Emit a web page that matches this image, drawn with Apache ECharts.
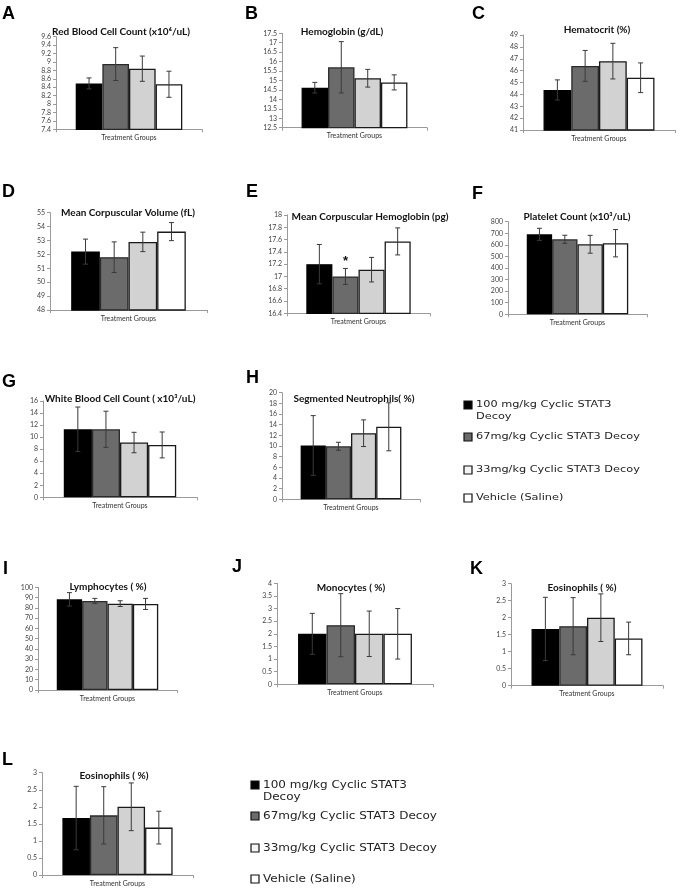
<!DOCTYPE html>
<html><head><meta charset="utf-8">
<script src="https://cdn.jsdelivr.net/npm/echarts@6/dist/echarts.min.js"></script>
<style>html,body{margin:0;padding:0;background:#fff}#c{width:685px;height:894px}</style>
</head><body><div id="c"></div>
<script>
// ---------- DATA ----------
const groups = ['100 mg/kg Cyclic STAT3 Decoy', '67mg/kg Cyclic STAT3 Decoy', '33mg/kg Cyclic STAT3 Decoy', 'Vehicle (Saline)'];
const xCategory = ['Treatment Groups'];
const panelLetters = ['A','B','C','D','E','F','G','H','I','J','K','L'];
const panelTitles = ['Red Blood Cell Count (x10\u2076/uL)', 'Hemoglobin (g/dL)', 'Hematocrit (%)',
  'Mean Corpuscular Volume (fL)', 'Mean Corpuscular Hemoglobin (pg)', 'Platelet Count (x10\u00b3/uL)',
  'White Blood Cell Count ( x10\u00b3/uL)', 'Segmented Neutrophils( %)', 'Lymphocytes ( %)',
  'Monocytes ( %)', 'Eosinophils ( %)', 'Eosinophils ( %)'];
const rbc = [8.49, 8.95, 8.84, 8.47],   rbcSD = [0.13, 0.39, 0.30, 0.31];
const hgb = [14.62, 15.70, 15.12, 14.90], hgbSD = [0.28, 1.36, 0.47, 0.40];
const hct = [44.37, 46.40, 46.80, 45.40], hctSD = [0.85, 1.30, 1.50, 1.25];
const mcv = [52.2, 51.8, 52.9, 53.64],  mcvSD = [0.9, 1.1, 0.7, 0.65];
const mch = [17.2, 17.0, 17.11, 17.57], mchSD = [0.32, 0.13, 0.2, 0.22];
const mchSig = [0, 1, 0, 0];
const plt = [691, 648, 605, 614],       pltSD = [52, 35, 77, 118];
const wbc = [11.3, 11.3, 9.1, 8.7],     wbcSD = [3.7, 3.0, 1.7, 2.15];
const neut = [10.1, 9.95, 12.4, 13.6],  neutSD = [5.6, 0.75, 2.5, 4.5];
const lymph = [88.3, 86.7, 84.1, 83.8], lymphSD = [6.5, 2.5, 2.8, 5.4];
const mono = [2.0, 2.34, 2.0, 2.0],     monoSD = [0.81, 1.25, 0.9, 1.0];
const eos = [1.67, 1.75, 2.0, 1.39],    eosSD = [0.93, 0.84, 0.7, 0.48];
// y-axis ticks: [min, max, interval]
const yTicksA = [7.4, 9.6, 0.2], yTicksB = [12.5, 17.5, 0.5], yTicksC = [41, 49, 1], yTicksD = [48, 55, 1];
const yTicksE = [16.4, 18, 0.2], yTicksF = [0, 800, 100], yTicksG = [0, 16, 2], yTicksH = [0, 20, 2];
const yTicksI = [0, 100, 10], yTicksJ = [0, 4, 0.5], yTicksK = [0, 3, 0.5], yTicksL = [0, 3, 0.5];

const panelMeans = [rbc, hgb, hct, mcv, mch, plt, wbc, neut, lymph, mono, eos, eos];
const panelSDs = [rbcSD, hgbSD, hctSD, mcvSD, mchSD, pltSD, wbcSD, neutSD, lymphSD, monoSD, eosSD, eosSD];
const panelSig = [null, null, null, null, mchSig, null, null, null, null, null, null, null];
const panelTicks = [yTicksA, yTicksB, yTicksC, yTicksD, yTicksE, yTicksF, yTicksG, yTicksH, yTicksI, yTicksJ, yTicksK, yTicksL];

// ---------- LAYOUT / STYLE ----------
// grid: [left, right-end, top, bottom] ; title center [x,y] ; letter [x,y]
const gridBox = [
  [56, 202, 36.7, 129.3], [282, 427, 33.3, 127.7], [523, 675, 35, 130],
  [50, 207, 212.7, 310], [287, 430, 215, 313.3], [508, 647, 221.7, 314.3],
  [43, 197, 401, 497.3], [282, 420, 392.7, 499.3], [38, 177, 587.3, 690],
  [277, 433, 583.3, 684.3], [511, 663, 583.7, 685.7], [42, 193, 772.7, 875]
];
const titlePos = [[121,32],[342,32],[597,30],[128,213],[370,217],[577,217],[120,399],[354,399],[108,587],[351,588],[582,588],[114,776]];
const letterPos = [[2,5],[245,5],[472,5],[2,183],[246,183],[472,185],[2,373],[246,369],[3,560],[232,558],[470,560],[2,751]];
const barFill = ['#000000', '#6b6b6b', '#d2d2d2', '#ffffff'];
const barBorder = ['#000000', '#2a2a2a', '#1a1a1a', '#1a1a1a'];
const CAT_GAP = 0.27;

const grids = [], xAxes = [], yAxes = [], series = [], graphics = [];
panelMeans.forEach((means, p) => {
  const g = gridBox[p];
  grids.push({left: g[0], top: g[2], width: g[1] - g[0], height: g[3] - g[2], containLabel: false});
  xAxes.push({type: 'category', gridIndex: p, data: xCategory,
    axisLine: {lineStyle: {color: '#9a9a9a', width: 1}},
    axisTick: {show: true, length: 3, lineStyle: {color: '#9a9a9a'}},
    axisLabel: {fontSize: 7, color: '#333', margin: 5, fontFamily: 'Lato'}});
  const t = panelTicks[p];
  yAxes.push({type: 'value', gridIndex: p, min: t[0], max: t[1], interval: t[2],
    axisLine: {show: true, lineStyle: {color: '#9a9a9a', width: 1}},
    axisTick: {show: true, length: 3, lineStyle: {color: '#9a9a9a'}},
    splitLine: {show: false},
    axisLabel: {fontSize: 7, color: '#444', margin: 5, fontFamily: 'Lato'}});
  groups.forEach((name, i) => {
    series.push({type: 'bar', name: name, xAxisIndex: p, yAxisIndex: p,
      data: [means[i]], barGap: '0%', barCategoryGap: (CAT_GAP * 100) + '%',
      itemStyle: {color: barFill[i], borderColor: barBorder[i], borderWidth: 1.3},
      silent: true, animation: false});
  });
  const sds = panelSDs[p], sig = panelSig[p];
  series.push({type: 'custom', xAxisIndex: p, yAxisIndex: p, z: 5, animation: false, silent: true,
    data: means.map((m, i) => [0, m, sds[i], i, sig ? sig[i] : 0]),
    encode: {x: 0, y: 1},
    renderItem: function (params, api) {
      const c = api.coord([api.value(0), api.value(1)]);
      const band = api.size([1, 0])[0];
      const bw = band * (1 - CAT_GAP) / 4;
      const x = c[0] + (api.value(3) - 1.5) * bw;
      const m = api.value(1), s = api.value(2);
      const yt = api.coord([0, m + s])[1], yb = api.coord([0, m - s])[1];
      const st = {stroke: '#3a3a3a', lineWidth: 1};
      const cap = 2.5;
      const children = [
        {type: 'line', shape: {x1: x, y1: yt, x2: x, y2: yb}, style: st},
        {type: 'line', shape: {x1: x - cap, y1: yt, x2: x + cap, y2: yt}, style: st},
        {type: 'line', shape: {x1: x - cap, y1: yb, x2: x + cap, y2: yb}, style: st}
      ];
      if (api.value(4)) {
        children.push({type: 'text', style: {text: '*', x: x, y: yt - 1, align: 'center', verticalAlign: 'bottom',
          font: 'bold 13px "Liberation Sans"', fill: '#111'}});
      }
      return {type: 'group', children: children};
    }});
  graphics.push({type: 'text', x: titlePos[p][0], y: titlePos[p][1],
    style: {text: panelTitles[p], align: 'center', verticalAlign: 'middle', font: 'bold 10px Lato', fill: '#111'}});
  graphics.push({type: 'text', x: letterPos[p][0], y: letterPos[p][1],
    style: {text: panelLetters[p], align: 'left', verticalAlign: 'top', font: 'bold 18px "Liberation Sans"', fill: '#000'}});
});

// legends
function addLegend(x, ys, lineGap, font, sx, sq) {
  const lines = [['100 mg/kg Cyclic STAT3', 'Decoy'], ['67mg/kg Cyclic STAT3 Decoy'], ['33mg/kg Cyclic STAT3 Decoy'], ['Vehicle (Saline)']];
  lines.forEach((ln, i) => {
    const y = ys[i];
    graphics.push({type: 'rect', shape: {x: x, y: y - sq / 2, width: sq, height: sq},
      style: {fill: i === 2 ? '#f4f4f4' : barFill[i], stroke: '#111', lineWidth: 1.2}});
    ln.forEach((t, k) => {
      graphics.push({type: 'text', x: x + sq + 4, y: y + k * lineGap, scaleX: sx,
        style: {text: t, align: 'left', verticalAlign: 'middle', font: font, fill: '#222'}});
    });
  });
}
addLegend(464, [405, 437, 470, 498], 12, '9.5px "DejaVu Sans"', 1.19, 8);
addLegend(251, [785, 816, 848, 879], 12, '10px "DejaVu Sans"', 1.2, 8);

const chart = echarts.init(document.getElementById('c'), null, {renderer: 'canvas'});
chart.setOption({animation: false, grid: grids, xAxis: xAxes, yAxis: yAxes, series: series, graphic: graphics});
</script></body></html>
